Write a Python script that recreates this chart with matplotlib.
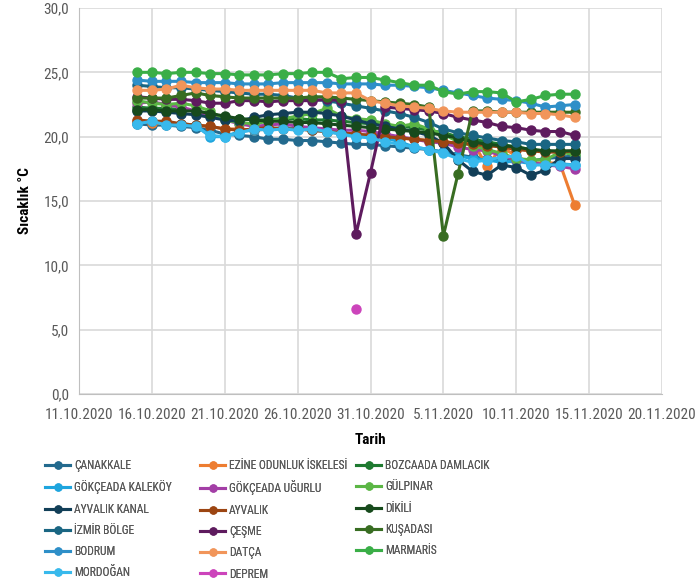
import matplotlib
matplotlib.use('Agg')
import matplotlib.pyplot as plt
import matplotlib.dates as mdates
from matplotlib import font_manager
from matplotlib.lines import Line2D
import numpy as np
import pandas as pd

# Calibri benzeri bir yazı tipi seç
names = {f.name for f in font_manager.fontManager.ttflist}
base = next((n for n in ['Liberation Sans Narrow', 'Roboto Condensed', 'Roboto', 'Lato'] if n in names),
            'DejaVu Sans')
plt.rcParams['font.family'] = [base, 'DejaVu Sans']

# günlük ölçüm tarihleri
dates = pd.date_range('2020-10-15', '2020-11-14', freq='D')

canakkale = [21.0, 20.9, 20.9, 20.8, 20.7, 20.5, 20.2, 20.1, 20.0, 19.8, 19.8, 19.7, 19.7, 19.6, 19.5, 19.4,
             19.4, 19.3, 19.2, 19.1, 19.0, 18.8, 18.6, 18.4, 18.3, 18.3, 18.2, 18.1, 18.3, 18.4, 18.5]
ezine = [21.2, 21.1, 21.0, 21.0, 20.9, 20.8, 20.6, 20.6, 20.5, 20.6, 20.7, 20.6, 20.5, 20.4, 20.3, 20.2,
         20.1, 20.0, 19.9, 19.8, 19.7, 19.6, 19.5, 19.6, 17.7, 19.2, 18.5, 17.9, 18.0, 17.9, 14.7]
bozcaada = [22.3, 22.2, 22.2, 22.1, 22.0, 21.8, 21.5, 21.4, 21.3, 21.3, 21.4, 21.4, 21.3, 21.3, 21.2, 21.1,
            21.0, 20.9, 20.8, 20.7, 20.5, 20.3, 20.0, 19.8, 19.6, 19.4, 19.2, 19.0, 18.9, 18.8, 18.8]
kalekoy = [21.1, 21.2, 21.0, 21.0, 20.9, 20.0, 20.0, 20.4, 20.5, 20.6, 20.7, 20.6, 20.5, 20.4, 20.2, 20.0,
           20.2, 19.9, 19.6, 19.2, 19.0, 18.8, 18.5, 18.3, 18.2, 18.0, 18.1, 17.9, 17.8, 17.9, 17.8]
ugurlu = [22.6, 22.7, 22.5, 22.3, 22.0, 21.6, 21.3, 21.0, 20.8, 20.9, 21.0, 20.8, 20.7, 20.6, 20.5, 20.5,
          20.4, 20.2, 20.0, 19.8, 19.6, 19.5, 19.2, 19.0, 18.9, 18.5, 18.2, 18.0, 17.8, 17.7, 17.5]
gulpinar = [22.8, 22.6, 22.5, 22.6, 22.4, 22.0, 21.3, 21.1, 21.0, 21.2, 21.4, 21.6, 21.8, 22.2, 21.6, 21.4,
            21.3, 21.0, 20.8, 21.0, 20.6, 20.2, 19.6, 19.3, 19.0, 18.7, 18.3, 18.2, 18.2, 18.8, 18.6]
ayvalik_kanal = [22.0, 22.0, 21.9, 21.8, 21.7, 21.5, 21.3, 21.2, 21.5, 21.7, 21.8, 21.9, 21.9, 21.8, 21.6, 21.3,
                 21.0, 20.8, 20.6, 20.4, 20.1, 19.5, 18.2, 17.3, 17.0, 17.8, 17.6, 17.0, 17.4, 18.3, 18.3]
ayvalik = [21.3, 21.2, 21.2, 21.0, 20.9, 20.8, 20.6, 20.5, 20.6, 20.7, 20.6, 20.6, 20.5, 20.4, 20.3, 20.2,
           20.1, 20.0, 19.9, 19.8, 19.7, 19.6, 19.5, 19.4, 19.3, 19.2, 19.0, 18.9, 18.8, 18.8, 18.9]
dikili = [22.1, 22.1, 22.0, 22.0, 22.0, 21.8, 21.6, 21.4, 21.3, 21.2, 21.2, 21.1, 21.1, 21.0, 20.9, 20.8,
          20.7, 20.6, 20.5, 20.4, 20.3, 20.1, 19.9, 19.6, 19.4, 19.3, 19.2, 19.0, 18.9, 18.9, 18.9]
izmir_bolge = [24.0, 23.9, 23.8, 23.8, 23.7, 23.6, 23.5, 23.4, 23.3, 23.3, 23.2, 23.0, 22.9, 22.8, 22.6, 22.4,
               22.2, 22.0, 21.8, 21.5, 21.1, 20.6, 20.3, 20.1, 19.9, 19.7, 19.6, 19.4, 19.4, 19.4, 19.4]
cesme = [23.1, 23.0, 22.9, 22.9, 22.8, 22.6, 22.6, 22.8, 22.8, 22.7, 22.8, 22.8, 22.8, 22.9, 22.8, 12.4,
         17.2, 22.3, 22.2, 22.1, 22.0, 21.8, 21.5, 21.3, 21.1, 20.8, 20.7, 20.5, 20.4, 20.4, 20.1]
kusadasi = [23.0, 23.0, 23.0, 23.2, 23.4, 23.2, 23.1, 23.0, 23.0, 23.0, 23.0, 23.0, 23.1, 23.1, 23.0, 22.9,
            22.8, 22.7, 22.6, 22.5, 22.3, 12.3, 17.1, 22.0, 22.0, 21.9, 21.9, 21.9, 21.9, 21.9, 21.9]
bodrum = [24.4, 24.3, 24.3, 24.3, 24.2, 24.2, 24.2, 24.1, 24.1, 24.1, 24.2, 24.2, 24.2, 24.2, 24.1, 24.1,
          24.1, 24.0, 24.0, 23.9, 23.8, 23.6, 23.4, 23.2, 23.0, 22.9, 22.8, 22.6, 22.3, 22.4, 22.5]
datca = [23.6, 23.6, 23.7, 24.0, 23.8, 23.7, 23.7, 23.6, 23.6, 23.6, 23.6, 23.6, 23.6, 23.4, 23.4, 23.4,
         22.8, 22.6, 22.4, 22.3, 22.2, 22.0, 21.9, 21.9, 21.9, 21.9, 21.9, 21.8, 21.8, 21.7, 21.5]
marmaris = [25.0, 25.0, 24.9, 25.0, 25.0, 24.9, 24.9, 24.8, 24.8, 24.8, 24.9, 24.9, 25.0, 25.0, 24.5, 24.6,
            24.6, 24.4, 24.2, 24.0, 24.0, 23.5, 23.3, 23.5, 23.5, 23.4, 22.7, 22.9, 23.2, 23.3, 23.3]
mordogan = [21.0, 21.2, 20.9, 20.9, 20.8, 20.1, 20.0, 20.3, 20.6, 20.5, 20.6, 20.5, 20.6, 20.4, 20.2, 20.0,
            19.9, 19.6, 19.4, 19.2, 19.0, 18.7, 18.3, 18.0, 18.2, 18.4, 18.5, 17.8, 17.8, 17.8, 17.8]
# deprem günü tek ölçüm
deprem_date = pd.Timestamp('2020-10-30')
deprem = 6.6

stations = ['ÇANAKKALE', 'EZİNE ODUNLUK İSKELESİ', 'BOZCAADA DAMLACIK',
            'GÖKÇEADA KALEKÖY', 'GÖKÇEADA UĞURLU', 'GÜLPINAR',
            'AYVALIK KANAL', 'AYVALIK', 'DİKİLİ',
            'İZMİR BÖLGE', 'ÇEŞME', 'KUŞADASI',
            'BODRUM', 'DATÇA', 'MARMARİS',
            'MORDOĞAN', 'DEPREM']
series = [canakkale, ezine, bozcaada, kalekoy, ugurlu, gulpinar, ayvalik_kanal, ayvalik, dikili,
          izmir_bolge, cesme, kusadasi, bodrum, datca, marmaris, mordogan]
colors = ['#236a8e', '#ed7d31', '#1e7a30', '#1ea5de', '#a33ea6', '#5bb645',
          '#123f58', '#9c4512', '#174a1c', '#1a6683', '#5e1b5e', '#386d22',
          '#2e8fc8', '#f1955a', '#3aae47', '#38b9ec', '#cc44bb']

fig = plt.figure(figsize=(6.99, 5.85), dpi=100)
ax = fig.add_axes([79 / 699, 1 - 394 / 585, (662 - 79) / 699, (394 - 8) / 585])

handles = []
for name, vals, c in zip(stations[:-1], series, colors[:-1]):
    ax.plot(dates, vals, '-o', color=c, lw=2.2, ms=6.5, label=name, zorder=3)
    handles.append(Line2D([], [], color=c, lw=2.2, marker='o', ms=5))
ax.plot([deprem_date], [deprem], 'o', color=colors[-1], ms=6.5, label='DEPREM', zorder=3)
handles.append(Line2D([], [], color=colors[-1], lw=2.2, marker='o', ms=5))

ax.set_ylim(0, 30)
ax.set_yticks(np.arange(0, 30.1, 5))
ax.yaxis.set_major_formatter(plt.FuncFormatter(lambda v, p: f'{v:.1f}'.replace('.', ',')))
ax.set_xlim(pd.Timestamp('2020-10-11'), pd.Timestamp('2020-11-20'))
ax.set_xticks(pd.date_range('2020-10-11', '2020-11-20', freq='5D'))
ax.xaxis.set_major_formatter(plt.FuncFormatter(
    lambda v, p: (lambda d: f'{d.day}.{d.month:02d}.{d.year}')(mdates.num2date(v))))

ax.grid(True, color='#d9d9d9', lw=1.2, zorder=0)
for s in ['top', 'right']:
    ax.spines[s].set_visible(False)
for s in ['left', 'bottom']:
    ax.spines[s].set_color('#bfbfbf')
ax.tick_params(length=0, labelsize=11, colors='#595959')
ax.tick_params(axis='x', pad=10)
ax.tick_params(axis='y', pad=7)
ax.set_ylabel('Sıcaklık °C', fontsize=11, fontweight='bold', labelpad=8)
ax.set_xlabel('Tarih', fontsize=11, fontweight='bold', labelpad=8)

# lejant: üç sütun, satır sırasıyla
col_x = [45, 200, 356]
for ci in range(3):
    idx = list(range(ci, len(stations), 3))
    leg = fig.legend([handles[i] for i in idx], [stations[i] for i in idx],
                     loc='upper left', bbox_to_anchor=(col_x[ci] / 699, 1 - 459 / 585),
                     frameon=False, fontsize=8.3, handlelength=2.2, handletextpad=0.3,
                     labelspacing=0.72, borderaxespad=0, borderpad=0, labelcolor='#595959',
                     numpoints=1)
    fig.add_artist(leg)

fig.savefig('out.png', dpi=100)
